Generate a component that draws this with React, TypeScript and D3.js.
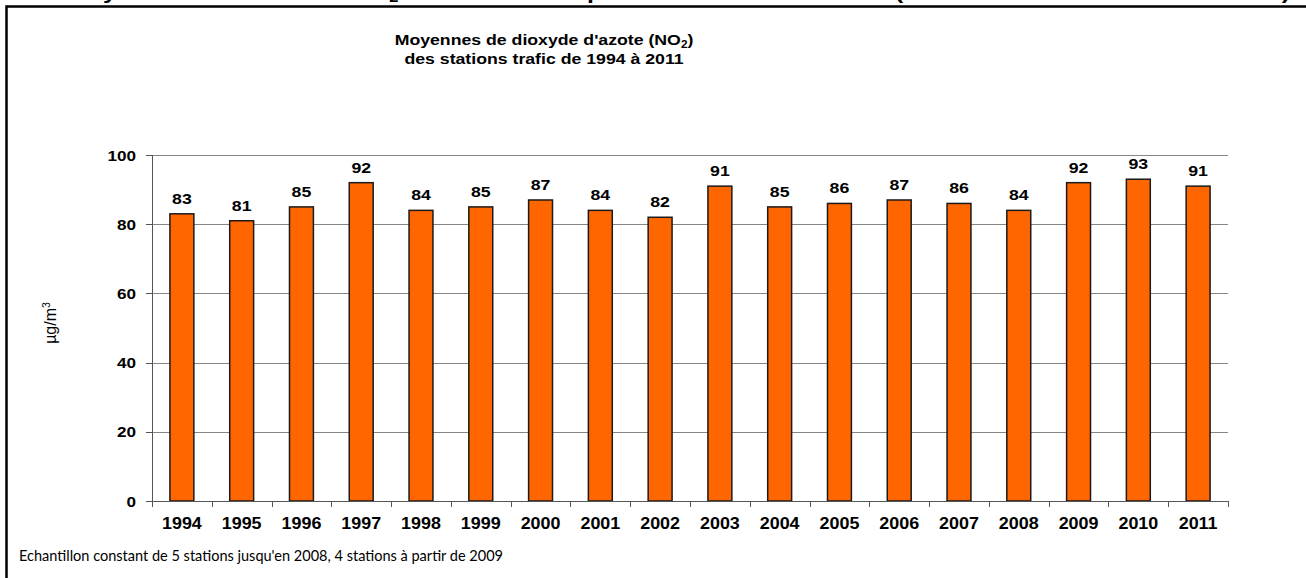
import React from "react";
import * as d3 from "d3";

const years = ["1994","1995","1996","1997","1998","1999","2000","2001","2002","2003","2004","2005","2006","2007","2008","2009","2010","2011"];
const values = [83,81,85,92,84,85,87,84,82,91,85,86,87,86,84,92,93,91];
const yTicks = [0,20,40,60,80,100];
const titleLine1 = "Moyennes  de dioxyde d'azote (NO";
const titleLine2 = "des stations  trafic de 1994 à 2011";
const yLabel = "µg/m";
const footnote = "Echantillon constant de 5 stations jusqu'en 2008, 4 stations à partir de 2009";
const topTextA = "Les moyennes annuelles de NO";
const topTextB = " en situation de proximité du trafic routier (échantillon constant de stations)";

export default function App() {
  const W = 1306, H = 578;
  const left = 152, right = 1228, top = 155, bottom = 501;
  const x = d3.scaleBand<string>().domain(years).range([left, right]).paddingInner(0.6).paddingOuter(0.3);
  const y = d3.scaleLinear().domain([0, 100]).range([bottom, top]);
  const step = x.step();
  const bounds = d3.range(years.length + 1).map(i => left + i * step);
  const arial = "'Liberation Sans', Arial, Helvetica, sans-serif";
  const sx = 1.18;

  return (
    <svg width={W} height={H} style={{ position: "absolute", left: 0, top: 0, background: "#fff" }}>
      <rect x={0} y={0} width={W} height={H} fill="#fff" />
      {/* heading of the page, cut off at the top edge */}
      <text transform={`translate(1290,-1.5) scale(${sx},1)`} textAnchor="end" fontFamily={arial} fontWeight="bold" fontSize={21} fill="#000">
        {topTextA}<tspan fontSize={14} dy={3}>2</tspan><tspan dy={-3}>{topTextB}</tspan>
      </text>
      {/* frame */}
      <path d={`M6.5,${H + 2} V6.5 H${W + 2}`} fill="none" stroke="#000" strokeWidth={2.5} />

      {/* title */}
      <g fontFamily={arial} fontWeight="bold" fontSize={15} fill="#000">
        <text transform={`translate(544,45) scale(${sx},1)`} textAnchor="middle">
          {titleLine1}<tspan fontSize={10} dy={3}>2</tspan><tspan dy={-3}>)</tspan>
        </text>
        <text transform={`translate(544,64) scale(${sx},1)`} textAnchor="middle">{titleLine2}</text>
      </g>

      {/* gridlines */}
      {yTicks.filter(t => t > 0).map(t => (
        <line key={"g" + t} x1={left} x2={right} y1={Math.round(y(t)) + 0.5} y2={Math.round(y(t)) + 0.5} stroke="#868686" strokeWidth={1} />
      ))}
      {/* y ticks */}
      {yTicks.map(t => (
        <line key={"yt" + t} x1={left - 6} x2={left} y1={Math.round(y(t)) + 0.5} y2={Math.round(y(t)) + 0.5} stroke="#555" strokeWidth={1} />
      ))}
      {/* y tick labels */}
      {yTicks.map(t => (
        <text key={"yl" + t} transform={`translate(136,${y(t) + 5.5}) scale(${sx},1)`} textAnchor="end" fontFamily={arial} fontWeight="bold" fontSize={14.5} fill="#000">{t}</text>
      ))}
      {/* bars */}
      {years.map((yr, i) => (
        <rect key={"b" + yr} x={x(yr)!} y={y(values[i])} width={x.bandwidth()} height={bottom - y(values[i])} fill="#FF6600" stroke="#1a1a1a" strokeWidth={1.5} />
      ))}
      {/* axes */}
      <line x1={left + 0.5} x2={left + 0.5} y1={top} y2={bottom} stroke="#555" strokeWidth={1} />
      <line x1={left} x2={right} y1={bottom + 0.5} y2={bottom + 0.5} stroke="#555" strokeWidth={1} />
      {bounds.map((b, i) => (
        <line key={"xt" + i} x1={Math.round(b) + 0.5} x2={Math.round(b) + 0.5} y1={bottom} y2={bottom + 6} stroke="#555" strokeWidth={1} />
      ))}
      {/* value labels */}
      {years.map((yr, i) => (
        <text key={"v" + yr} transform={`translate(${x(yr)! + x.bandwidth() / 2},${y(values[i]) - 10}) scale(${sx},1)`} textAnchor="middle" fontFamily={arial} fontWeight="bold" fontSize={15} fill="#000">{values[i]}</text>
      ))}
      {/* year labels */}
      {years.map(yr => (
        <text key={"x" + yr} transform={`translate(${x(yr)! + x.bandwidth() / 2},529) scale(1.12,1)`} textAnchor="middle" fontFamily={arial} fontWeight="bold" fontSize={16} fill="#000">{yr}</text>
      ))}
      {/* y axis label */}
      <text transform="translate(56,323) rotate(-90)" textAnchor="middle" fontFamily={arial} fontSize={16} fill="#000">
        {yLabel}<tspan fontSize={10.5} dy={-6}>3</tspan>
      </text>
      {/* footnote */}
      <text x={19} y={561} fontFamily="Lato, 'Open Sans', sans-serif" fontSize={15} fill="#000" textLength={484} lengthAdjust="spacingAndGlyphs">{footnote}</text>
    </svg>
  );
}
